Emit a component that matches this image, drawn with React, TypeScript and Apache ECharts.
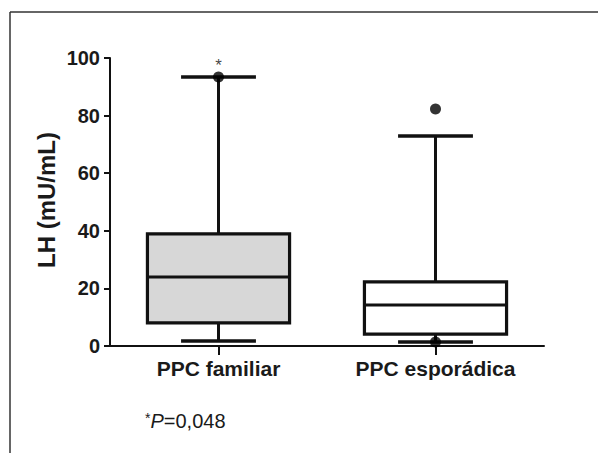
import React, { useEffect, useRef } from "react";
import * as echarts from "echarts";

const categories = ["PPC familiar", "PPC esporádica"];
const whiskerLow = [1.7, 1.4];
const q1 = [8.0, 4.1];
const median = [24.0, 14.2];
const q3 = [38.9, 22.3];
const whiskerHigh = [93.4, 72.9];
const boxFills = ["#d7d7d7", "#ffffff"];
const outlierCat = [0, 1, 1];
const outlierVal = [93.4, 82.3, 1.4];
const outlierMark = ["*", "", ""];
const yTicks = { min: 0, max: 100, interval: 20 };
const footnote = { star: "*", p: "P", rest: "=0,048" };
const yTitle = "LH (mU/mL)";

const FONT = "'Liberation Sans', Arial, Helvetica, sans-serif";

export default function App() {
  const ref = useRef<HTMLDivElement>(null);
  useEffect(() => {
    if (!ref.current) return;
    const chart = echarts.init(ref.current, null, { renderer: "svg" });
    const boxData = categories.map((_, i) => [i, whiskerLow[i], q1[i], median[i], q3[i], whiskerHigh[i]]);
    const outData = outlierCat.map((c, i) => ({
      value: [c, outlierVal[i]],
      label: {
        show: outlierMark[i] !== "",
        formatter: outlierMark[i],
        position: "top",
        distance: -2,
        fontSize: 17,
        color: "#111",
        fontFamily: FONT,
      },
    }));
    chart.setOption({
      animation: false,
      backgroundColor: "#ffffff",
      grid: { left: 110, right: 54, top: 58, bottom: 107 },
      xAxis: {
        type: "category",
        data: categories,
        boundaryGap: true,
        axisLine: { show: true, lineStyle: { color: "#111", width: 2 } },
        axisTick: { show: true, alignWithLabel: true, length: 9, lineStyle: { color: "#111", width: 2 } },
        axisLabel: { margin: 12, fontSize: 21, fontWeight: "bold", color: "#1a1a1a", fontFamily: FONT },
        splitLine: { show: false },
      },
      yAxis: {
        type: "value",
        min: yTicks.min,
        max: yTicks.max,
        interval: yTicks.interval,
        axisLine: { show: true, lineStyle: { color: "#111", width: 2 } },
        axisTick: { show: true, length: 6, lineStyle: { color: "#111", width: 2 } },
        axisLabel: { margin: 10, fontSize: 20, fontWeight: "bold", color: "#1a1a1a", fontFamily: FONT },
        splitLine: { show: false },
      },
      graphic: [
        { type: "line", shape: { x1: 10, y1: 12, x2: 598, y2: 12 }, style: { stroke: "#333", lineWidth: 1.5 } },
        { type: "line", shape: { x1: 10, y1: 12, x2: 10, y2: 453 }, style: { stroke: "#333", lineWidth: 1.5 } },
        {
          type: "text",
          x: 46,
          y: 200,
          rotation: Math.PI / 2,
          style: {
            text: yTitle,
            fontSize: 24,
            fontWeight: "bold",
            fontFamily: FONT,
            fill: "#1a1a1a",
            align: "center",
            verticalAlign: "middle",
          },
        },
        {
          type: "text",
          x: 145,
          y: 421,
          style: {
            text: `{s|${footnote.star}}{p|${footnote.p}}{r|${footnote.rest}}`,
            fontFamily: FONT,
            fill: "#1a1a1a",
            verticalAlign: "middle",
            rich: {
              s: { fontSize: 14, fontFamily: FONT, fill: "#1a1a1a", verticalAlign: "top" },
              p: { fontSize: 20, fontStyle: "italic", fontFamily: FONT, fill: "#1a1a1a" },
              r: { fontSize: 20, fontFamily: FONT, fill: "#1a1a1a" },
            },
          },
        },
      ],
      series: [
        {
          type: "custom",
          data: boxData,
          encode: { x: 0, y: [1, 2, 3, 4, 5] },
          renderItem: (params: any, api: any) => {
            const idx = api.value(0);
            const lo = api.coord([idx, api.value(1)]);
            const b1 = api.coord([idx, api.value(2)]);
            const md = api.coord([idx, api.value(3)]);
            const b3 = api.coord([idx, api.value(4)]);
            const hi = api.coord([idx, api.value(5)]);
            const band = api.size([1, 0])[0];
            const bw = band * 0.655;
            const cw = band * 0.345;
            const cx = lo[0];
            const lineStyle = { stroke: "#111", lineWidth: 3 };
            return {
              type: "group",
              children: [
                { type: "line", shape: { x1: cx, y1: hi[1], x2: cx, y2: b3[1] }, style: lineStyle },
                { type: "line", shape: { x1: cx, y1: b1[1], x2: cx, y2: lo[1] }, style: lineStyle },
                { type: "line", shape: { x1: cx - cw / 2, y1: hi[1], x2: cx + cw / 2, y2: hi[1] }, style: { stroke: "#111", lineWidth: 3.5 } },
                { type: "line", shape: { x1: cx - cw / 2, y1: lo[1], x2: cx + cw / 2, y2: lo[1] }, style: { stroke: "#111", lineWidth: 3.5 } },
                {
                  type: "rect",
                  shape: { x: cx - bw / 2, y: b3[1], width: bw, height: b1[1] - b3[1] },
                  style: { fill: boxFills[idx], stroke: "#111", lineWidth: 3.2 },
                },
                { type: "line", shape: { x1: cx - bw / 2, y1: md[1], x2: cx + bw / 2, y2: md[1] }, style: { stroke: "#111", lineWidth: 3 } },
              ],
            };
          },
          z: 2,
        },
        {
          type: "scatter",
          data: outData,
          symbol: "circle",
          symbolSize: 11,
          itemStyle: { color: "#000" },
          z: 3,
        },
      ],
    });
    return () => chart.dispose();
  }, []);
  return <div ref={ref} style={{ position: "fixed", left: 0, top: 0, width: 598, height: 453, background: "#fff" }} />;
}
